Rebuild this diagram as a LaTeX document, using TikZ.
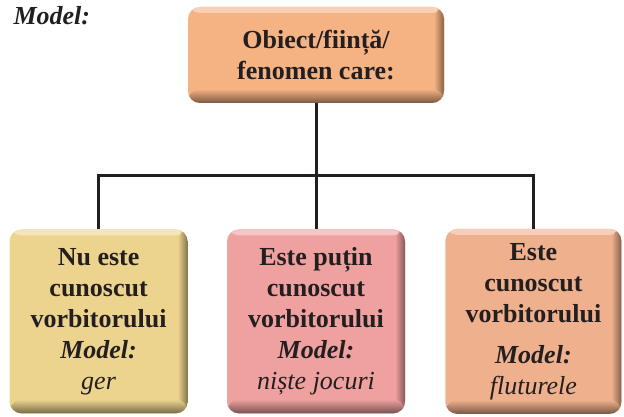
\documentclass[tikz,border=0pt]{standalone}
\usepackage{fontspec}
\setmainfont{Liberation Serif}
\usetikzlibrary{positioning,calc}
\definecolor{ink}   {HTML}{231F20}
\definecolor{peach} {HTML}{F5B283}
\definecolor{straw} {HTML}{EDD48E}
\definecolor{rose}  {HTML}{EEA19F}
\definecolor{salmon}{HTML}{EFB08D}
\tikzset{
  every node/.style={font=\fontsize{26}{31}\selectfont\bfseries, text=ink},
  % --- boxes
  card/.style  = {rounded corners=12pt, fill=#1, align=center, inner sep=0pt,
                  path picture={
                    \shade[top color=#1!60!white, bottom color=#1]
                      (path picture bounding box.north west)
                      rectangle ([yshift=-6pt]path picture bounding box.north east);
                    \shade[left color=#1, right color=#1!55!black]
                      ([xshift=-10pt]path picture bounding box.north east)
                      rectangle (path picture bounding box.south east);
                    \shade[top color=#1, bottom color=#1!50!black]
                      ([yshift=14pt]path picture bounding box.south west)
                      rectangle (path picture bounding box.south east);
                  }},
  eg/.style    = {font=\fontsize{26}{31}\selectfont\bfseries\itshape},
  % --- edges
  link/.style  = {draw=ink, line width=3pt},
}
\begin{document}
\begin{tikzpicture}[x=1pt,y=1pt]
  \useasboundingbox (0,0) rectangle (624,416);
  \node[eg, anchor=base west] (title) at (10,391) {Model:};

  % root
  \node[card=peach, minimum width=256pt, minimum height=96pt] (obj) at (316,361)
    {Obiect/ființă/\\fenomen care:};

  % children
  \node[card=rose, minimum width=178pt, minimum height=184pt, below=126pt of obj] (little)
    {Este puțin\\cunoscut\\vorbitorului\\\textit{Model:}\\\textmd{\textit{niște jocuri}}};
  \node[card=straw, minimum width=178pt, minimum height=184pt, left=39pt of little] (unknown)
    {Nu este\\cunoscut\\vorbitorului\\\textit{Model:}\\\textmd{\textit{ger}}};
  \node[card=salmon, minimum width=176pt, minimum height=185pt, right=40pt of little] (known)
    {Este\\cunoscut\\vorbitorului\\[10pt]\textit{Model:}\\\textmd{\textit{fluturele}}};

  % tree lines
  \draw[link] (obj.south) -- ++(0,-72.5) coordinate (fork);
  \draw[link] (unknown.north) |- (fork) -| (known.north);
  \draw[link] (fork) -- (little.north);
\end{tikzpicture}
\end{document}
